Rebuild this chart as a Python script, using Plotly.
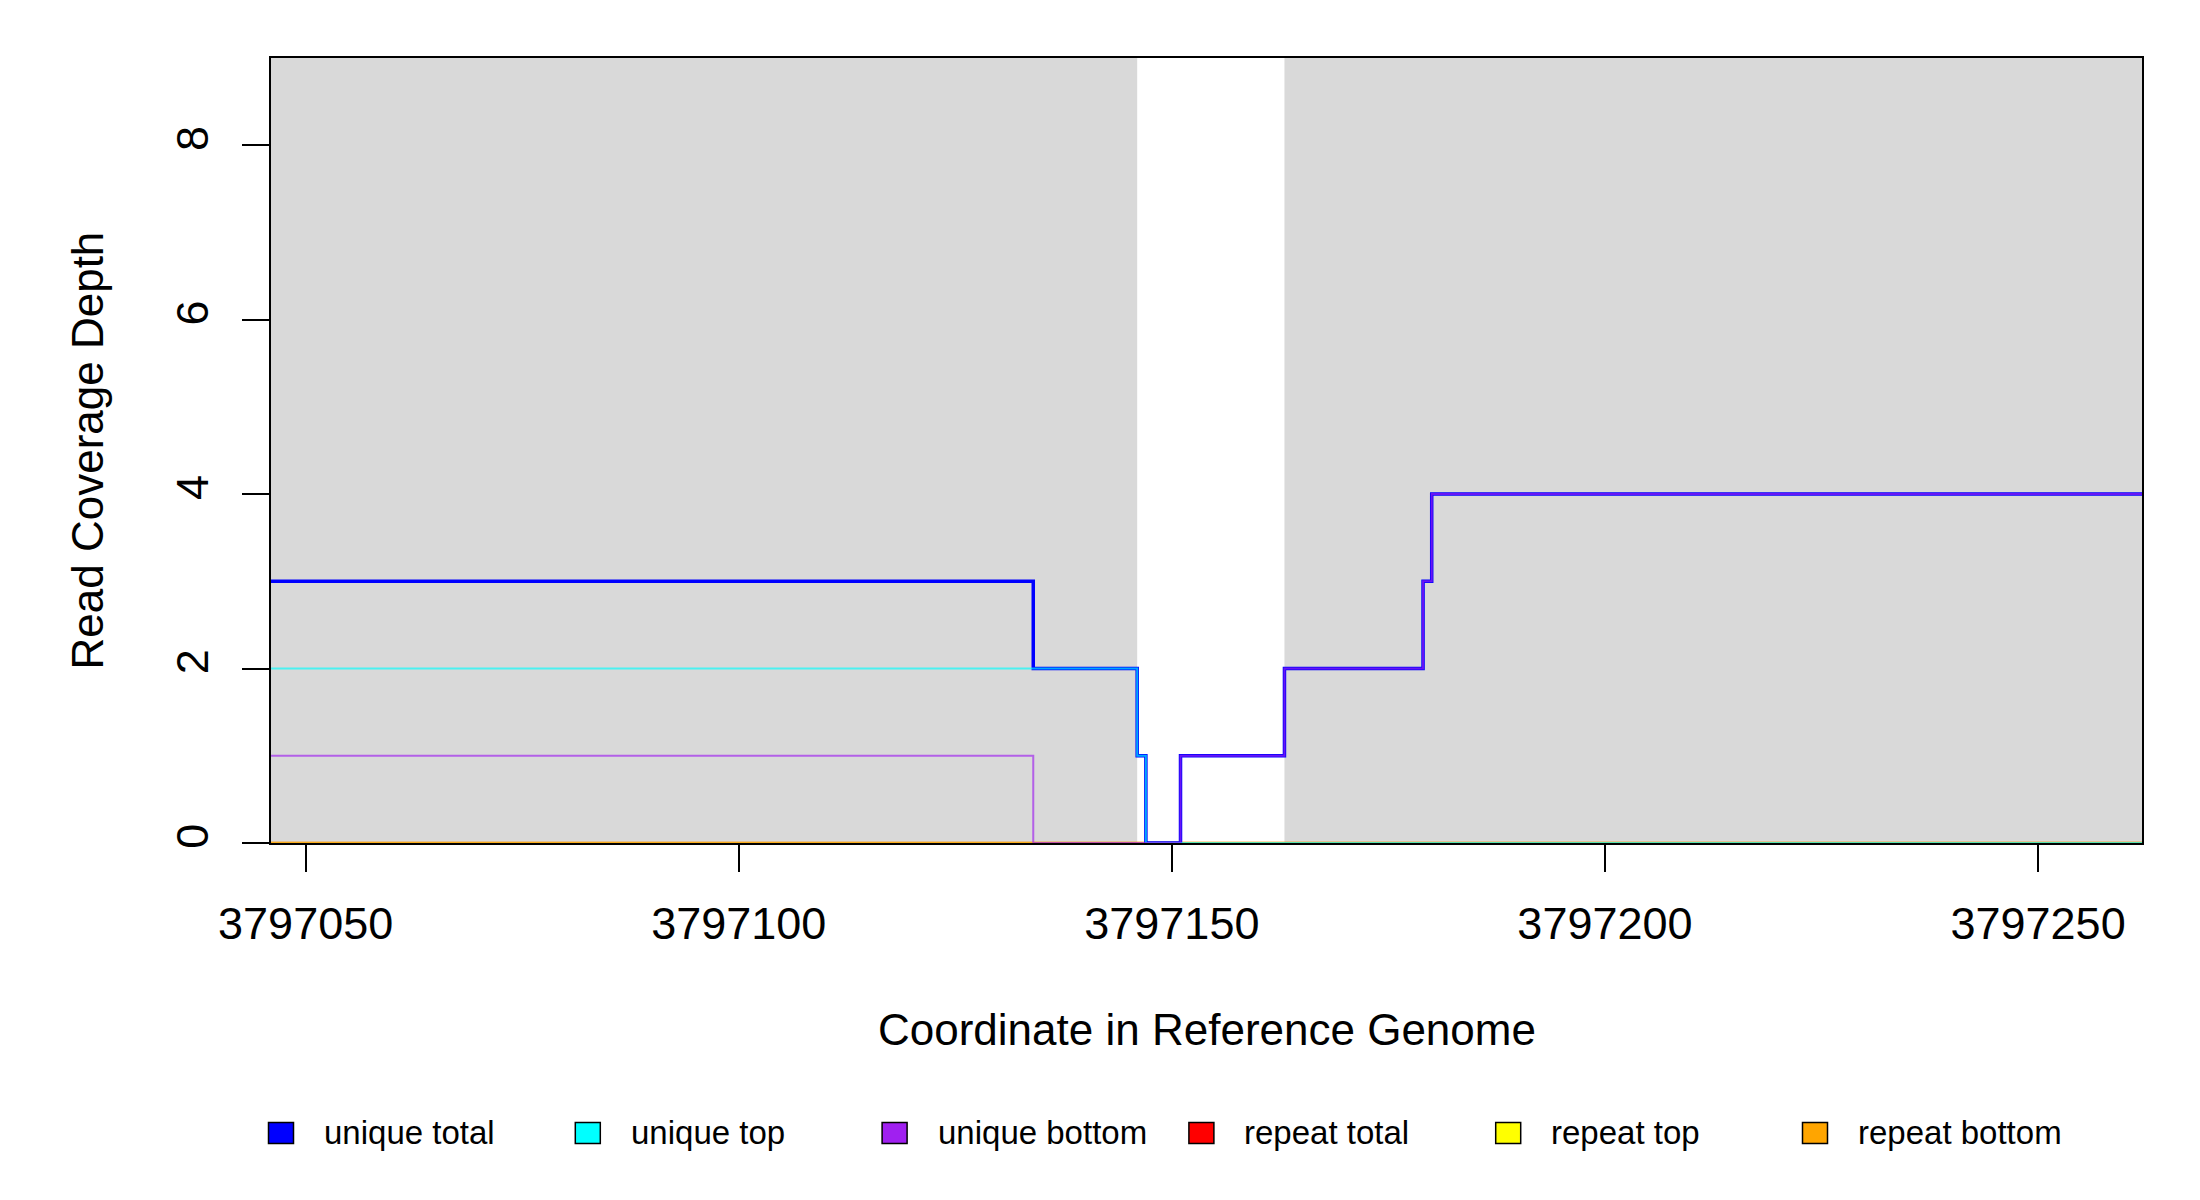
import plotly.graph_objects as go

# ---- data ----
step_starts = [3797046, 3797134, 3797146, 3797147, 3797151, 3797163, 3797179, 3797180]
range_end = 3797262
unique_total = [3, 2, 1, 0, 1, 2, 3, 4]
unique_top = [2, 2, 1, 0, 0, 0, 0, 0]
unique_bottom = [1, 0, 0, 0, 1, 2, 3, 4]
repeat_total = [0, 0, 0, 0, 0, 0, 0, 0]
repeat_top = [0, 0, 0, 0, 0, 0, 0, 0]
repeat_bottom = [0, 0, 0, 0, 0, 0, 0, 0]
shaded_starts = [3797046, 3797163]
shaded_ends = [3797146, 3797262]
x_ticks = [3797050, 3797100, 3797150, 3797200, 3797250]
y_ticks = [0, 2, 4, 6, 8]
legend_labels = ["unique total", "unique top", "unique bottom", "repeat total", "repeat top", "repeat bottom"]
legend_colors = ["#0000FF", "#00FFFF", "#A020F0", "#FF0000", "#FFFF00", "#FFA500"]

FONT = "Liberation Sans, Arial, sans-serif"
xs = step_starts + [range_end]

def ys(v):
    return v + [v[-1]]

fig = go.Figure()

series = [
    ("repeat total", repeat_total, "#FF0000", 2.5, 0.5),
    ("repeat top", repeat_top, "#FFFF00", 2.5, 0.5),
    ("repeat bottom", repeat_bottom, "#FFA500", 2.5, 0.5),
    ("unique total", unique_total, "#0000FF", 3.5, 1.0),
    ("unique top", unique_top, "#00FFFF", 2.0, 0.65),
    ("unique bottom", unique_bottom, "#A020F0", 2.0, 0.65),
]
for name, vals, col, w, op in series:
    fig.add_trace(go.Scatter(
        x=xs, y=ys(vals), mode="lines", name=name,
        line=dict(color=col, width=w, shape="hv"),
        opacity=op, showlegend=False, hoverinfo="x+y+name",
    ))

shapes = []
for s, e in zip(shaded_starts, shaded_ends):
    shapes.append(dict(type="rect", xref="x", yref="paper", x0=s, x1=e, y0=0, y1=1,
                       fillcolor="#D9D9D9", line=dict(width=0), layer="below"))

# manual legend (R-style filled boxes); positions in page pixels
plot_l, plot_w, plot_b, plot_h = 271, 1871, 843, 785
annotations = []
for i, (lab, col) in enumerate(zip(legend_labels, legend_colors)):
    cx = 281 + 306.8 * i
    cy = 1133
    shapes.append(dict(type="rect", xref="paper", yref="paper",
                       x0=(cx - 12.5 - plot_l) / plot_w, x1=(cx + 12.5 - plot_l) / plot_w,
                       y0=-(cy + 10.5 - plot_b) / plot_h, y1=-(cy - 10.5 - plot_b) / plot_h,
                       fillcolor=col, line=dict(color="#000000", width=1.5)))
    annotations.append(dict(xref="paper", yref="paper", x=(cx + 41 - plot_l) / plot_w,
                            y=-(1132 - plot_b) / plot_h, text=lab, showarrow=False,
                            xanchor="left", yanchor="middle",
                            font=dict(family=FONT, size=33, color="#000000")))

annotations.append(dict(xref="paper", yref="paper", x=0.5, y=-(1029 - plot_b) / plot_h,
                        text="Coordinate in Reference Genome", showarrow=False,
                        xanchor="center", yanchor="middle",
                        font=dict(family=FONT, size=44, color="#000000")))
annotations.append(dict(xref="paper", yref="paper", x=(87 - plot_l) / plot_w, y=0.5,
                        text="Read Coverage Depth", showarrow=False, textangle=-90,
                        xanchor="center", yanchor="middle",
                        font=dict(family=FONT, size=44, color="#000000")))

# page body has an 8px margin, so the figure is slightly smaller and margins shifted
fig.update_layout(
    width=2192, height=1192, autosize=False,
    margin=dict(l=263, r=58, t=50, b=357),
    paper_bgcolor="white", plot_bgcolor="white",
    font=dict(family=FONT, color="#000000"),
    shapes=shapes, annotations=annotations,
    showlegend=False,
)
fig.update_xaxes(
    range=[3797046, 3797262], tickvals=x_ticks, ticktext=[str(v) for v in x_ticks],
    ticks="outside", ticklen=27, tickwidth=2, tickcolor="#000000",
    showline=True, linecolor="#000000", linewidth=2, mirror=True,
    showgrid=False, zeroline=False, layer="below traces",
    tickfont=dict(family=FONT, size=45, color="#000000"), ticklabelstandoff=13,
)
fig.update_yaxes(
    range=[0, 9], tickvals=y_ticks, ticktext=[str(v) for v in y_ticks],
    ticks="outside", ticklen=27, tickwidth=2, tickcolor="#000000",
    showline=True, linecolor="#000000", linewidth=2, mirror=True,
    showgrid=False, zeroline=False, layer="below traces", tickangle=-90,
    tickfont=dict(family=FONT, size=45, color="#000000"), ticklabelstandoff=16,
)

fig.write_html("out.html")
